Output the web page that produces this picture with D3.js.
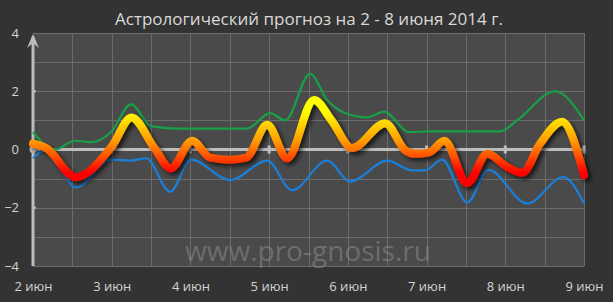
<!DOCTYPE html>
<html>
<head>
<meta charset="utf-8">
<script src="https://cdn.jsdelivr.net/npm/d3@7"></script>
<style>
  html, body { margin: 0; padding: 0; background: #333333; }
  svg { display: block; }
</style>
</head>
<body>
<div id="chart"></div>
<script>
//DATA
const title = "Астрологический прогноз на 2 - 8 июня 2014 г.";
const watermark = "www.pro-gnosis.ru";
const dayLabels = ["2 июн", "3 июн", "4 июн", "5 июн", "6 июн", "7 июн", "8 июн", "9 июн"];
const yTicks = [-4, -2, 0, 2, 4];

// hours since 2 июн 00:00
const mainHours  = [0, 4, 13, 24, 30, 37, 42, 48.5, 54, 60, 65, 71.4, 77.5, 85.7, 91, 97.3, 107.4, 113.5, 116.5, 120.8, 125.4, 132.4, 138.5, 144.6, 149.2, 154.6, 161.3, 168];
const mainValues = [0.2, 0.05, -0.95, 0.1, 1.1, 0.05, -0.65, 0.3, -0.28, -0.35, -0.28, 0.85, -0.3, 1.7, 1.0, 0.05, 0.9, -0.03, -0.15, -0.1, 0.3, -1.15, -0.15, -0.6, -0.8, 0.2, 0.95, -0.88];

const upperHours  = [0, 6.7, 12.8, 17.7, 23.8, 29.9, 36, 43.6, 65.3, 72.3, 76.9, 84.5, 89.7, 95.2, 101.9, 107, 114.7, 121, 142.4, 147.6, 159.2, 168];
const upperValues = [0.6, 0.0, 0.3, 0.25, 0.6, 1.55, 0.8, 0.72, 0.72, 1.25, 1.0, 2.6, 1.7, 1.25, 1.1, 1.3, 0.6, 0.62, 0.62, 1.0, 2.0, 1.0];

const lowerHours  = [0, 4.6, 13.1, 23.8, 29.9, 34.5, 41.8, 48.2, 60.1, 71.4, 79, 89.7, 96.7, 108, 115.6, 119.6, 124.7, 132.4, 138.8, 150.7, 161.7, 168];
const lowerValues = [-0.3, 0.03, -1.3, -0.35, -0.38, -0.3, -1.45, -0.35, -1.05, -0.38, -1.4, -0.38, -1.1, -0.38, -0.72, -0.72, -0.35, -1.82, -0.7, -1.85, -0.95, -1.85];

//INIT
const width = 613, height = 302;
const plot = { left: 33, right: 584, top: 33, bottom: 266 };

const svg = d3.select("#chart").append("svg")
  .attr("width", width)
  .attr("height", height);

svg.append("rect").attr("width", width).attr("height", height).attr("fill", "#333333");

const x = d3.scaleLinear().domain([0, 168]).range([plot.left, plot.right]);
const y = d3.scaleLinear().domain([-4, 4]).range([plot.bottom, plot.top]);

const defs = svg.append("defs");

const grad = defs.append("linearGradient")
  .attr("id", "heat")
  .attr("gradientUnits", "userSpaceOnUse")
  .attr("x1", 0).attr("x2", 0)
  .attr("y1", y(1.3)).attr("y2", y(-0.8));
grad.append("stop").attr("offset", "0%").attr("stop-color", "#ffff00");
grad.append("stop").attr("offset", "48%").attr("stop-color", "#ff9a00");
grad.append("stop").attr("offset", "100%").attr("stop-color", "#ff0000");

const shadow = defs.append("filter")
  .attr("id", "shadow")
  .attr("x", "-10%").attr("y", "-30%")
  .attr("width", "120%").attr("height", "160%");
shadow.append("feDropShadow")
  .attr("dx", 3).attr("dy", 3)
  .attr("stdDeviation", 2)
  .attr("flood-color", "#000")
  .attr("flood-opacity", 0.65);

//PLOT AREA
svg.append("rect")
  .attr("x", plot.left).attr("y", plot.top)
  .attr("width", plot.right - plot.left)
  .attr("height", plot.bottom - plot.top)
  .attr("fill", "#4a4a4a");

//GRID
const grid = svg.append("g").attr("stroke", "#6c6c6c").attr("stroke-width", 1);
grid.selectAll("line.h")
  .data(d3.range(-4, 5))
  .enter().append("line")
  .attr("x1", plot.left).attr("x2", plot.right)
  .attr("y1", d => Math.round(y(d)) + 0.5)
  .attr("y2", d => Math.round(y(d)) + 0.5);
grid.selectAll("line.v")
  .data(d3.range(12, 169, 12))
  .enter().append("line")
  .attr("y1", plot.top).attr("y2", plot.bottom)
  .attr("x1", d => Math.round(x(d)) + 0.5)
  .attr("x2", d => Math.round(x(d)) + 0.5);

//WATERMARK
svg.append("text")
  .attr("x", 308).attr("y", 261)
  .attr("text-anchor", "middle")
  .attr("font-family", "'Open Sans', 'Noto Sans', sans-serif")
  .attr("font-size", 28)
  .attr("fill", "#8c8c8c")
  .attr("fill-opacity", 0.55)
  .text(watermark);

//AXES
const axisColor = "#bdbdbd";
svg.append("line")
  .attr("x1", plot.left).attr("x2", plot.right)
  .attr("y1", y(0)).attr("y2", y(0))
  .attr("stroke", axisColor).attr("stroke-width", 3);
svg.selectAll("rect.xtick")
  .data(d3.range(24, 169, 24))
  .enter().append("rect")
  .attr("x", d => x(d) - 1.5).attr("y", y(0) - 4)
  .attr("width", 3).attr("height", 8)
  .attr("fill", axisColor);

svg.append("line")
  .attr("x1", plot.left).attr("x2", plot.left)
  .attr("y1", plot.bottom).attr("y2", plot.top + 4)
  .attr("stroke", axisColor).attr("stroke-width", 3);
svg.append("path")
  .attr("d", `M${plot.left - 6},${plot.top + 15} L${plot.left},${plot.top + 1} L${plot.left + 6},${plot.top + 15} L${plot.left},${plot.top + 10} Z`)
  .attr("fill", axisColor);
svg.selectAll("rect.ytick")
  .data([-2, 2])
  .enter().append("rect")
  .attr("x", plot.left).attr("y", d => y(d) - 1)
  .attr("width", 3).attr("height", 2)
  .attr("fill", axisColor);
svg.append("circle")
  .attr("cx", plot.left).attr("cy", y(0)).attr("r", 3.5)
  .attr("fill", axisColor);

const yAxis = d3.axisLeft(y).tickValues(yTicks).tickSize(0).tickPadding(0);
svg.append("g")
  .attr("transform", `translate(${plot.left - 14},0)`)
  .call(yAxis)
  .call(g => g.select(".domain").remove())
  .selectAll("text")
  .attr("font-family", "'Open Sans', 'Noto Sans', sans-serif")
  .attr("font-size", 13)
  .attr("fill", "#d4d4d4");

const xAxis = d3.axisBottom(x)
  .tickValues(d3.range(0, 169, 24))
  .tickFormat((d, i) => dayLabels[i])
  .tickSize(0).tickPadding(0);
svg.append("g")
  .attr("transform", `translate(0,${plot.bottom + 16})`)
  .call(xAxis)
  .call(g => g.select(".domain").remove())
  .selectAll("text")
  .attr("font-family", "'Open Sans', 'Noto Sans', sans-serif")
  .attr("font-size", 13)
  .attr("fill", "#d4d4d4");

//LINES
const line = d3.line()
  .x(d => x(d[0]))
  .y(d => y(d[1]))
  .curve(d3.curveMonotoneX);

svg.append("path")
  .datum(d3.zip(upperHours, upperValues))
  .attr("d", line)
  .attr("fill", "none")
  .attr("stroke", "#17a047")
  .attr("stroke-width", 2.2);

svg.append("path")
  .datum(d3.zip(lowerHours, lowerValues))
  .attr("d", line)
  .attr("fill", "none")
  .attr("stroke", "#1a7fd9")
  .attr("stroke-width", 2.2);

svg.append("path")
  .datum(d3.zip(mainHours, mainValues))
  .attr("d", line)
  .attr("fill", "none")
  .attr("stroke", "url(#heat)")
  .attr("stroke-width", 8)
  .attr("stroke-linecap", "round")
  .attr("stroke-linejoin", "round")
  .attr("filter", "url(#shadow)");

//TITLE
svg.append("text")
  .attr("x", 309).attr("y", 25)
  .attr("text-anchor", "middle")
  .attr("font-family", "'Open Sans', 'Noto Sans', sans-serif")
  .attr("font-size", 17)
  .attr("fill", "#d9d9d9")
  .text(title);
</script>
</body>
</html>
